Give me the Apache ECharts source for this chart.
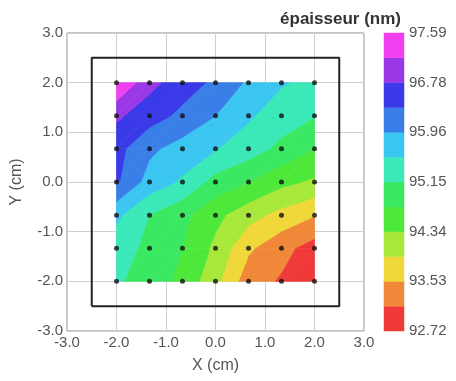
<!DOCTYPE html>
<html><head><meta charset="utf-8">
<script src="https://cdn.jsdelivr.net/npm/echarts@6/dist/echarts.min.js"></script>
<style>html,body{margin:0;padding:0;background:#fff}#c{width:456px;height:381px}</style>
</head><body><div id="c"></div>
<script>
// measurement positions (cm)
const xPositions = [-2, -1.333, -0.667, 0, 0.667, 1.333, 2];
const yPositions = [2, 1.333, 0.667, 0, -0.667, -1.333, -2];
// thickness (nm): one row per y (top to bottom), one column per x (left to right)
const thicknessRows = [
  [97.59, 96.90, 96.55, 96.30, 95.90, 95.60, 95.45],
  [96.85, 96.55, 96.28, 95.97, 95.62, 95.35, 95.17],
  [96.50, 96.05, 95.80, 95.58, 95.35, 95.05, 94.75],
  [96.42, 95.80, 95.50, 95.00, 94.75, 94.45, 94.28],
  [95.65, 95.15, 94.85, 94.45, 94.10, 93.80, 93.55],
  [95.35, 95.05, 94.75, 94.25, 93.60, 93.25, 92.95],
  [95.22, 94.95, 94.65, 94.05, 93.30, 93.08, 92.72]
];
const levelLabels = ['92.72', '93.53', '94.34', '95.15', '95.96', '96.78', '97.59'];
const bandColors = ['#f03a3a', '#f0883a', '#f0d83a', '#a8e83a', '#4ee83a', '#3ae862',
                    '#3ae8b8', '#3ac6f0', '#3a7ee8', '#3a3ae8', '#9a38e6', '#f040f0'];
const waferFrame = [-2.5, 2.5];
const titleText = 'épaisseur (nm)';

const vMin = parseFloat(levelLabels[0]);
const vMax = parseFloat(levelLabels[levelLabels.length - 1]);
const nBands = bandColors.length;
const bandEdges = bandColors.map((c, k) => vMin + k * (vMax - vMin) / nBands).concat([vMax]);

function clip(poly, level, keepAbove) {
  const out = [];
  for (let i = 0; i < poly.length; i++) {
    const a = poly[i], b = poly[(i + 1) % poly.length];
    const ina = keepAbove ? a[2] >= level : a[2] <= level;
    const inb = keepAbove ? b[2] >= level : b[2] <= level;
    if (ina) out.push(a);
    if (ina !== inb) {
      const t = (level - a[2]) / (b[2] - a[2]);
      out.push([a[0] + t * (b[0] - a[0]), a[1] + t * (b[1] - a[1]), level]);
    }
  }
  return out;
}

// triangles: cell (col c, row r), tri 0/1
const triData = [];
for (let r = 0; r < yPositions.length - 1; r++)
  for (let c = 0; c < xPositions.length - 1; c++)
    for (let t = 0; t < 2; t++) triData.push([c, r, t]);

function vert(c, r) { return [xPositions[c], yPositions[r], thicknessRows[r][c]]; }

function renderTri(params, api) {
  const c = api.value(0), r = api.value(1), t = api.value(2);
  const TL = vert(c, r), TR = vert(c + 1, r), BL = vert(c, r + 1), BR = vert(c + 1, r + 1);
  const tri = t === 0 ? [BL, TR, TL] : [BL, BR, TR];
  const children = [];
  for (let k = 0; k < nBands; k++) {
    let p = tri;
    if (k > 0) p = clip(p, bandEdges[k], true);
    if (p.length < 3) continue;
    if (k < nBands - 1) p = clip(p, bandEdges[k + 1], false);
    if (p.length < 3) continue;
    const pts = p.map(q => api.coord([q[0], q[1]]));
    children.push({
      type: 'polygon',
      shape: { points: pts },
      style: { fill: bandColors[k], stroke: bandColors[k], lineWidth: 0.7 }
    });
  }
  return { type: 'group', children: children };
}

const pointData = [];
yPositions.forEach(y => xPositions.forEach(x => pointData.push([x, y])));
const a = waferFrame[0], b = waferFrame[1];
const frameData = [[a, a], [b, a], [b, b], [a, b], [a, a]];

const font = "'Liberation Sans', Arial, sans-serif";
const labelStyle = { color: '#555', fontSize: 15, fontFamily: font };

const chart = echarts.init(document.getElementById('c'), null, { renderer: 'canvas' });
chart.setOption({
  animation: false,
  title: {
    text: titleText, right: 50, top: 6,
    textStyle: { fontSize: 17, fontWeight: 'bold', color: '#333', fontFamily: font }
  },
  grid: [
    { left: 67, top: 33, width: 297, height: 298, show: true, borderColor: '#8a8a8a', borderWidth: 1 },
    { left: 384, top: 33, width: 20, height: 298 }
  ],
  xAxis: [
    {
      gridIndex: 0, type: 'value', min: -3, max: 3, interval: 1,
      name: 'X (cm)', nameLocation: 'middle', nameGap: 27,
      nameTextStyle: { color: '#555', fontSize: 16, fontFamily: font },
      axisLine: { show: false }, axisTick: { show: false },
      axisLabel: Object.assign({ margin: 4, formatter: v => v.toFixed(1) }, labelStyle),
      splitLine: { show: true, lineStyle: { color: '#cfcfcf', width: 1 } }
    },
    { gridIndex: 1, type: 'value', min: 0, max: 1, show: false }
  ],
  yAxis: [
    {
      gridIndex: 0, type: 'value', min: -3, max: 3, interval: 1,
      name: 'Y (cm)', nameLocation: 'middle', nameGap: 42,
      nameTextStyle: { color: '#555', fontSize: 16, fontFamily: font },
      axisLine: { show: false }, axisTick: { show: false },
      axisLabel: Object.assign({ margin: 4, formatter: v => v.toFixed(1) }, labelStyle),
      splitLine: { show: true, lineStyle: { color: '#cfcfcf', width: 1 } }
    },
    {
      gridIndex: 1, type: 'value', min: vMin, max: vMax, interval: (vMax - vMin) / (levelLabels.length - 1),
      position: 'right',
      axisLine: { show: false }, axisTick: { show: false }, splitLine: { show: false },
      axisLabel: Object.assign({
        margin: 5, showMinLabel: true, showMaxLabel: true,
        formatter: v => {
          let best = levelLabels[0], d = Infinity;
          levelLabels.forEach(l => { const e = Math.abs(parseFloat(l) - v); if (e < d) { d = e; best = l; } });
          return best;
        }
      }, labelStyle)
    }
  ],
  series: [
    {
      type: 'custom', xAxisIndex: 0, yAxisIndex: 0, renderItem: renderTri,
      data: triData, encode: { x: -1, y: -1 }, z: 2, silent: true
    },
    {
      type: 'line', xAxisIndex: 0, yAxisIndex: 0, data: frameData, symbol: 'none',
      lineStyle: { color: '#222', width: 2 }, z: 3, silent: true
    },
    {
      type: 'scatter', xAxisIndex: 0, yAxisIndex: 0, data: pointData, symbolSize: 5,
      itemStyle: { color: '#111' }, z: 4, silent: true
    },
    {
      type: 'custom', xAxisIndex: 1, yAxisIndex: 1, silent: true,
      data: bandColors.map((c, k) => [k]), encode: { x: -1, y: -1 },
      renderItem: (params, api) => {
        const k = api.value(0);
        const p0 = api.coord([0, bandEdges[k + 1]]);
        const p1 = api.coord([1, bandEdges[k]]);
        return { type: 'rect', shape: { x: p0[0], y: p0[1], width: p1[0] - p0[0], height: p1[1] - p0[1] },
                 style: { fill: bandColors[k], stroke: bandColors[k], lineWidth: 0.5 } };
      }
    }
  ]
});
</script></body></html>
